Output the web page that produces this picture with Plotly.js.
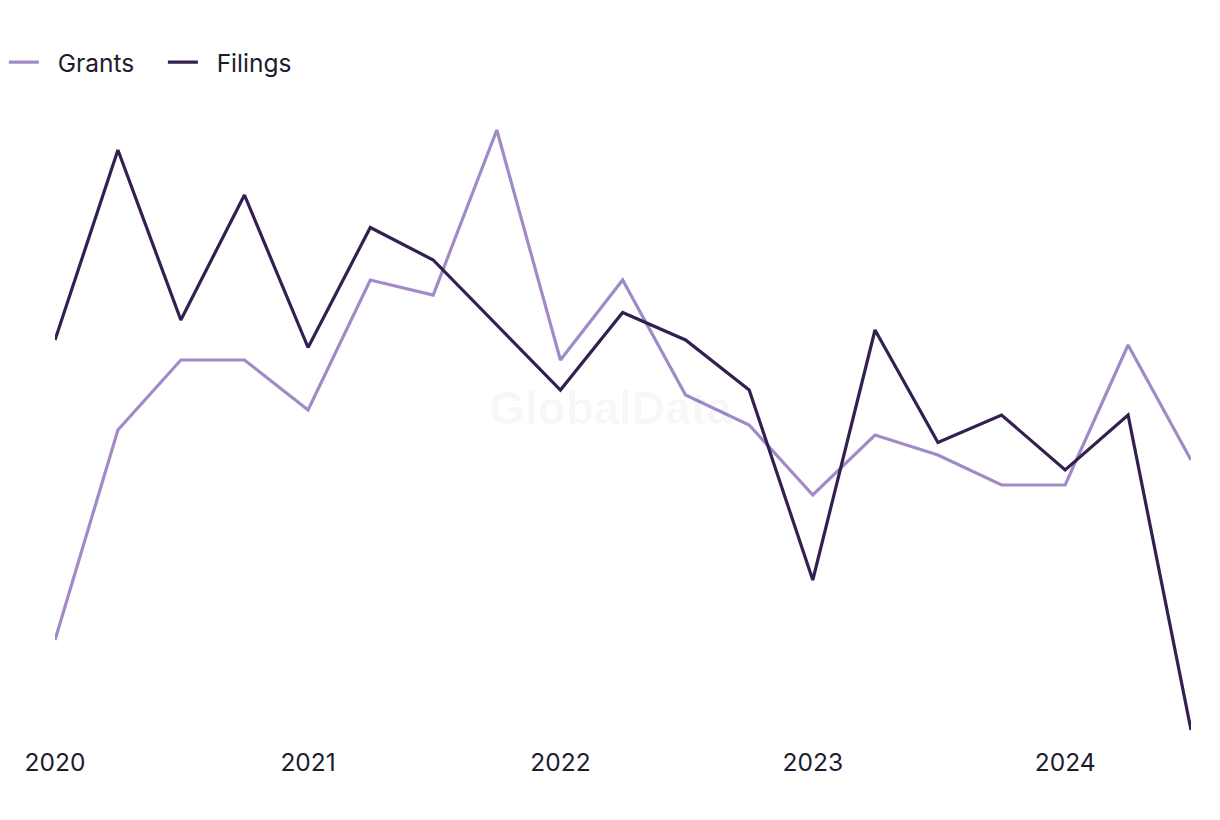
<!DOCTYPE html>
<html>
<head>
<meta charset="utf-8">
<script src="https://cdn.plot.ly/plotly-3.0.1.min.js"></script>
<style>html,body{margin:0;padding:0;background:#fff;}#chart{width:1220px;height:820px;}</style>
</head>
<body>
<div id="chart"></div>
<script>
const quarters = ['2020-01-01','2020-04-01','2020-07-01','2020-10-01',
  '2021-01-01','2021-04-01','2021-07-01','2021-10-01',
  '2022-01-01','2022-04-01','2022-07-01','2022-10-01',
  '2023-01-01','2023-04-01','2023-07-01','2023-10-01',
  '2024-01-01','2024-04-01','2024-07-01'];
const grants = [28, 70, 84, 84, 74, 100, 97, 130, 84, 100, 77, 71, 57, 69, 65, 59, 59, 87, 64];
const filings = [88, 126, 92, 117, 86.5, 110.5, 104, 91, 78, 93.5, 88, 78, 40, 90, 67.5, 73, 62, 73, 10];
const seriesNames = ['Grants', 'Filings'];
const watermark = 'GlobalData';

const fontFam = 'Inter, "Liberation Sans", Arial, sans-serif';
const traces = [
  {x: quarters, y: grants, name: '\u00a0\u00a0' + seriesNames[0], type: 'scatter', mode: 'lines',
   line: {color: '#a08bc8', width: 3.2}},
  {x: quarters, y: filings, name: '\u00a0\u00a0' + seriesNames[1], type: 'scatter', mode: 'lines',
   line: {color: '#331f50', width: 3.2}}
];
const layout = {
  width: 1220, height: 820,
  margin: {l: 55, r: 29, t: 100, b: 80, autoexpand: false},
  paper_bgcolor: '#ffffff', plot_bgcolor: '#ffffff',
  font: {family: fontFam, size: 24, color: '#1c1b2e'},
  showlegend: true,
  legend: {orientation: 'h', x: -0.045, xanchor: 'left', y: 1.059, yanchor: 'middle',
    font: {family: fontFam, size: 24.5, color: '#1c1b2e'}, itemwidth: 30,
    entrywidth: 114, entrywidthmode: 'pixels'},
  xaxis: {type: 'date', range: ['2020-01-01', '2024-07-01'], tickformat: '%Y', dtick: 'M12',
    tick0: '2020-01-01', showgrid: false, zeroline: false, showline: false, ticks: '',
    ticklabelstandoff: 5,
    tickfont: {family: fontFam, size: 24.5, color: '#1c1b2e'}, fixedrange: true},
  yaxis: {range: [8, 136], showgrid: false, zeroline: false, showline: false,
    showticklabels: false, ticks: '', fixedrange: true},
  annotations: [{text: watermark, xref: 'paper', yref: 'paper', x: 0.4886, y: 0.519,
    showarrow: false, font: {family: 'Liberation Sans, Arial, sans-serif', size: 46, color: 'rgba(0,0,0,0.035)', weight: 'bold'}}]
};
Plotly.newPlot('chart', traces, layout, {displayModeBar: false, staticPlot: true});
</script>
</body>
</html>
